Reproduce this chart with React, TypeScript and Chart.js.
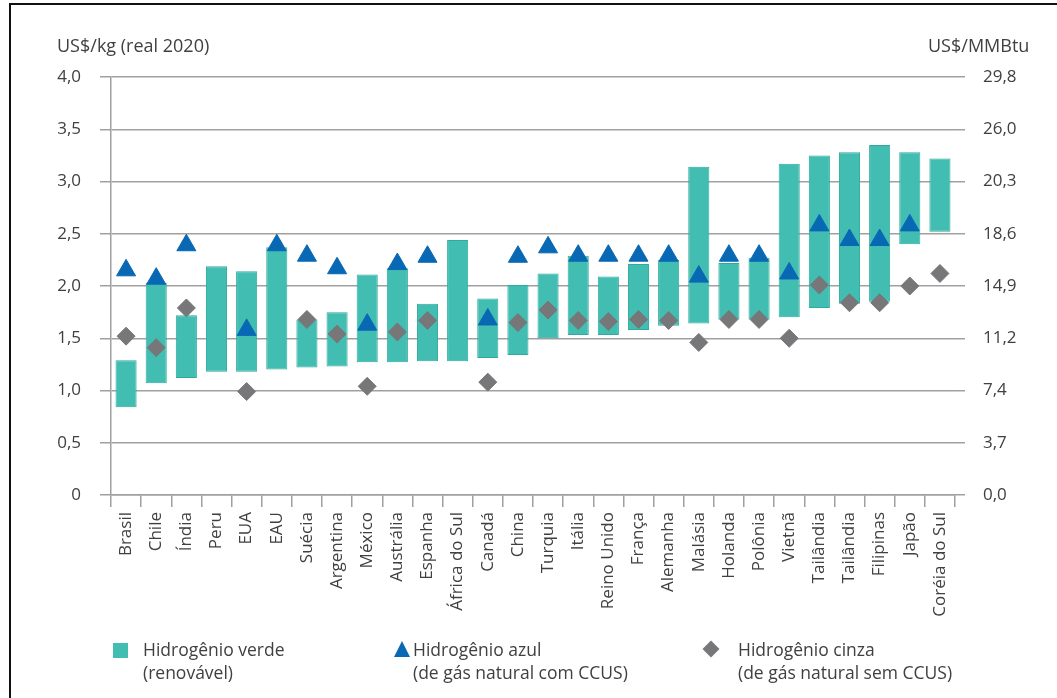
import React, { useEffect, useRef } from 'react';
import { Chart, registerables } from 'chart.js';

Chart.register(...registerables);

const countries = [
  'Brasil', 'Chile', 'Índia', 'Peru', 'EUA', 'EAU', 'Suécia', 'Argentina', 'México', 'Austrália',
  'Espanha', 'África do Sul', 'Canadá', 'China', 'Turquia', 'Itália', 'Reino Unido', 'França',
  'Alemanha', 'Malásia', 'Holanda', 'Polônia', 'Vietnã', 'Tailândia', 'Tailândia', 'Filipinas',
  'Japão', 'Coréia do Sul',
];

// Hidrogênio verde: range low / high (US$/kg)
const greenLow = [
  0.84, 1.07, 1.12, 1.18, 1.18, 1.2, 1.22, 1.23, 1.27, 1.27,
  1.28, 1.28, 1.31, 1.34, 1.5, 1.53, 1.53, 1.58, 1.62, 1.64,
  1.68, 1.68, 1.7, 1.79, 1.83, 1.85, 2.4, 2.52,
];
const greenHigh = [
  1.29, 2.03, 1.72, 2.19, 2.14, 2.37, 1.68, 1.75, 2.11, 2.17,
  1.83, 2.44, 1.88, 2.01, 2.12, 2.29, 2.09, 2.21, 2.25, 3.14,
  2.22, 2.27, 3.17, 3.25, 3.28, 3.35, 3.28, 3.22,
];
// Hidrogênio azul
const blueValues = [
  2.15, 2.07, 2.39, null, 1.58, 2.39, 2.29, 2.17, 1.63, 2.21,
  2.28, null, 1.68, 2.28, 2.37, 2.29, 2.29, 2.29, 2.29, 2.09,
  2.29, 2.29, 2.12, 2.58, 2.44, 2.44, 2.58, null,
];
// Hidrogênio cinza
const greyValues = [
  1.52, 1.41, 1.79, null, 0.99, null, 1.68, 1.54, 1.04, 1.56,
  1.67, null, 1.08, 1.65, 1.77, 1.67, 1.66, 1.68, 1.67, 1.46,
  1.68, 1.68, 1.5, 2.01, 1.84, 1.84, 2.0, 2.12,
];

const rightTickLabels = ['0,0', '3,7', '7,4', '11,2', '14,9', '18,6', '20,3', '26,0', '29,8'];

const FONT = "'Open Sans', 'Noto Sans', sans-serif";
const TEXT = '#404040';
const GRID = '#a0a0a0';
const TEAL = '#41bdb1';
const TEAL_BORDER = '#2eab9e';
const BLUE = '#0868b4';
const GREY = '#77777a';

const W = 1057;
const H = 640;

export default function App() {
  const ref = useRef<HTMLCanvasElement>(null);

  useEffect(() => {
    const canvas = ref.current;
    if (!canvas) return;
    const chart = new Chart(canvas, {
      type: 'bar',
      data: {
        labels: countries,
        datasets: [
          {
            type: 'bar',
            label: 'Hidrogênio verde',
            data: greenLow.map((l, i) => [l, greenHigh[i]]),
            backgroundColor: TEAL,
            borderColor: TEAL_BORDER,
            borderWidth: 1,
            borderSkipped: false,
            barPercentage: 0.7,
            categoryPercentage: 1,
            order: 3,
            yAxisID: 'y',
          },
          {
            type: 'line',
            label: 'Hidrogênio azul',
            data: blueValues,
            showLine: false,
            pointStyle: 'triangle',
            pointRadius: 11,
            pointHoverRadius: 11,
            pointBackgroundColor: BLUE,
            pointBorderColor: BLUE,
            pointBorderWidth: 1,
            order: 2,
            yAxisID: 'y',
          },
          {
            type: 'line',
            label: 'Hidrogênio cinza',
            data: greyValues,
            showLine: false,
            pointStyle: 'rectRot',
            pointRadius: 9,
            pointHoverRadius: 9,
            pointBackgroundColor: GREY,
            pointBorderColor: GREY,
            pointBorderWidth: 1,
            order: 1,
            yAxisID: 'y',
          },
        ],
      },
      options: {
        animation: false,
        responsive: false,
        maintainAspectRatio: false,
        layout: { padding: { top: 77, left: 0, right: 0, bottom: 0 } },
        plugins: {
          legend: { display: false },
          tooltip: { enabled: false },
        },
        scales: {
          x: {
            offset: true,
            grid: {
              display: true,
              offset: true,
              drawOnChartArea: false,
              drawTicks: true,
              tickLength: 12,
              color: GRID,
              lineWidth: 1.5,
            },
            border: { display: true, color: GRID, width: 1.5 },
            ticks: {
              autoSkip: false,
              maxRotation: 90,
              minRotation: 90,
              padding: 5,
              color: TEXT,
              font: { family: FONT, size: 17 },
            },
            afterFit: (s: any) => {
              s.height = H - 495;
            },
          },
          y: {
            position: 'left',
            min: 0,
            max: 4,
            ticks: {
              stepSize: 0.5,
              padding: 19,
              color: TEXT,
              font: { family: FONT, size: 17 },
              callback: (v: any) => (Number(v) === 0 ? '0' : Number(v).toFixed(1).replace('.', ',')),
            },
            grid: { color: GRID, lineWidth: 1.5, tickLength: 11 },
            border: { display: true, color: GRID, width: 1.5 },
            afterFit: (s: any) => {
              s.width = 111;
            },
          },
          y2: {
            position: 'right',
            min: 0,
            max: 4,
            ticks: {
              stepSize: 0.5,
              padding: 18,
              color: TEXT,
              font: { family: FONT, size: 17 },
              callback: (_v: any, i: number) => rightTickLabels[i],
            },
            grid: { drawOnChartArea: false, color: GRID, lineWidth: 1.5, tickLength: 10 },
            border: { display: false },
            afterFit: (s: any) => {
              s.width = W - 955;
            },
          },
        },
      },
    } as any);
    return () => chart.destroy();
  }, []);

  const legendText: React.CSSProperties = {
    position: 'absolute',
    top: 638,
    fontFamily: FONT,
    fontSize: 17.5,
    lineHeight: '23px',
    color: TEXT,
    whiteSpace: 'nowrap',
  };

  const titleText: React.CSSProperties = {
    position: 'absolute',
    top: 32,
    fontFamily: FONT,
    fontSize: 18,
    lineHeight: '26px',
    color: TEXT,
    whiteSpace: 'nowrap',
  };

  return (
    <div style={{ position: 'absolute', left: 0, top: 0, width: W, height: 698, background: '#fff', overflow: 'hidden' }}>
      <div style={{ position: 'absolute', left: 9, top: 3, width: 1048, height: 695, borderLeft: '2px solid #111', borderTop: '2px solid #111' }} />
      <canvas ref={ref} width={W} height={H} style={{ position: 'absolute', left: 0, top: 0, width: W, height: H }} />
      <div style={{ ...titleText, left: 57 }}>US$/kg (real 2020)</div>
      <div style={{ ...titleText, left: 928 }}>US$/MMBtu</div>

      <div style={{ position: 'absolute', left: 113, top: 643, width: 15, height: 15, background: TEAL }} />
      <div style={{ ...legendText, left: 143 }}>Hidrogênio verde<br />(renovável)</div>

      <div style={{ position: 'absolute', left: 394, top: 641, width: 0, height: 0, borderLeft: '8px solid transparent', borderRight: '8px solid transparent', borderBottom: `16px solid ${BLUE}` }} />
      <div style={{ ...legendText, left: 413 }}>Hidrogênio azul<br />(de gás natural com CCUS)</div>

      <div style={{ position: 'absolute', left: 705, top: 643, width: 12, height: 12, background: GREY, transform: 'rotate(45deg)' }} />
      <div style={{ ...legendText, left: 738 }}>Hidrogênio cinza<br />(de gás natural sem CCUS)</div>
    </div>
  );
}
